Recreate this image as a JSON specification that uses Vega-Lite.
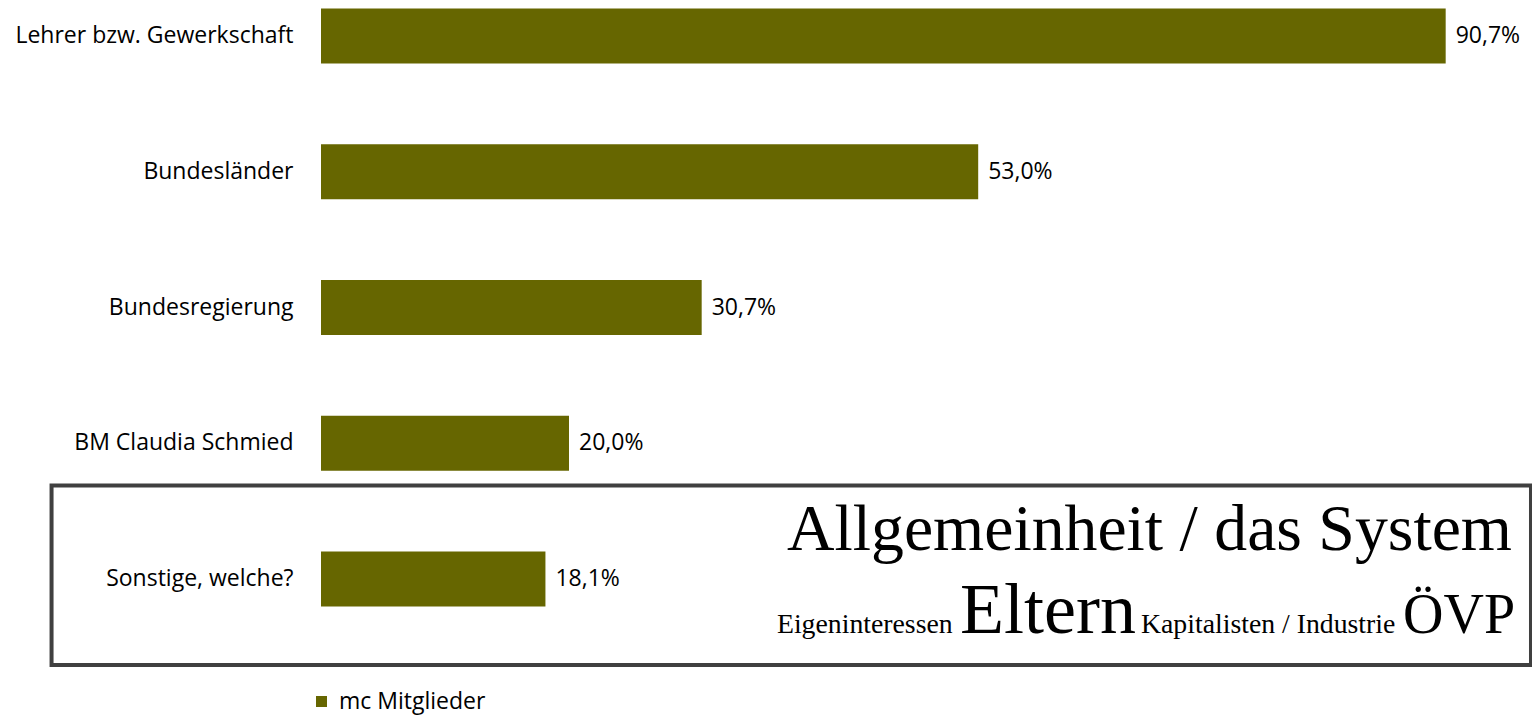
{
  "$schema": "https://vega.github.io/schema/vega-lite/v6.json",
  "width": 1211,
  "height": 615,
  "autosize": {"type": "none"},
  "padding": {"left": 321, "top": 0, "right": 0, "bottom": 102},
  "background": "white",
  "config": {
    "view": {"stroke": null},
    "font": "Open Sans",
    "locale": {"number": {"decimal": ",", "thousands": ".", "grouping": [3], "currency": ["", " €"]}}
  },
  "datasets": {
    "bars": [
      {"category": "Lehrer bzw. Gewerkschaft", "share": 0.907},
      {"category": "Bundesländer", "share": 0.530},
      {"category": "Bundesregierung", "share": 0.307},
      {"category": "BM Claudia Schmied", "share": 0.200},
      {"category": "Sonstige, welche?", "share": 0.181}
    ],
    "box": [{"x0": -0.2173, "x1": 0.9758, "r0": 3.311, "r1": 4.634}],
    "cloud": [
      {"word": "Allgemeinheit / das System", "col": 0.3758, "row": 3.786, "weight": 13.15},
      {"word": "Eigeninteressen", "col": 0.3677, "row": 4.398, "weight": 5.55},
      {"word": "Eltern", "col": 0.5153, "row": 4.398, "weight": 14.4},
      {"word": "Kapitalisten / Industrie", "col": 0.6613, "row": 4.398, "weight": 5.55},
      {"word": "ÖVP", "col": 0.8726, "row": 4.398, "weight": 11.2}
    ]
  },
  "layer": [
    {
      "data": {"name": "bars"},
      "layer": [
        {
          "mark": {"type": "bar", "color": "#666600"},
          "encoding": {
            "y": {
              "field": "category", "type": "nominal", "sort": null,
              "scale": {"paddingInner": 0.5948, "paddingOuter": 0.0626},
              "axis": {"title": null, "ticks": false, "domain": false, "labelPadding": 28, "labelFont": "Open Sans", "labelFontSize": 23, "labelColor": "#000000", "labelLimit": 400}
            },
            "x": {"field": "share", "type": "quantitative", "scale": {"domain": [0, 0.97661], "nice": false}, "axis": null},
            "color": {
              "datum": "mc Mitglieder", "type": "nominal",
              "scale": {"range": ["#666600"]},
              "legend": {"title": null, "orient": "none", "legendX": -11, "legendY": 690, "symbolType": "square", "symbolSize": 121, "symbolStrokeWidth": 0, "labelFont": "Open Sans", "labelFontSize": 23, "labelColor": "#000000", "labelOffset": 6, "padding": 0}
            }
          }
        },
        {
          "mark": {"type": "text", "align": "left", "baseline": "middle", "dx": 10, "font": "Open Sans", "fontSize": 23, "color": "#000000"},
          "encoding": {
            "y": {"field": "category", "type": "nominal", "sort": null},
            "x": {"field": "share", "type": "quantitative", "scale": {"domain": [0, 0.97661], "nice": false}},
            "text": {"field": "share", "type": "quantitative", "format": ".1%"}
          }
        }
      ]
    },
    {
      "data": {"name": "box"},
      "mark": {"type": "rect", "fill": null, "stroke": "#404040", "strokeWidth": 4},
      "encoding": {
        "x": {"field": "x0", "type": "quantitative", "scale": {"domain": [0, 0.97661], "nice": false}},
        "x2": {"field": "x1"},
        "y": {"field": "r0", "type": "quantitative", "scale": {"domain": [-0.2652, 4.2652], "reverse": true, "nice": false, "zero": false}, "axis": null},
        "y2": {"field": "r1"}
      }
    },
    {
      "data": {"name": "cloud"},
      "mark": {"type": "text", "align": "left", "baseline": "alphabetic", "font": "Liberation Serif", "color": "#000000"},
      "encoding": {
        "x": {"field": "col", "type": "quantitative", "scale": {"domain": [0, 0.97661], "nice": false}},
        "y": {"field": "row", "type": "quantitative", "scale": {"domain": [-0.2652, 4.2652], "reverse": true, "nice": false, "zero": false}, "axis": null},
        "text": {"field": "word"},
        "size": {"field": "weight", "type": "quantitative", "scale": {"domain": [0, 20], "range": [0, 100]}, "legend": null}
      }
    }
  ],
  "resolve": {"scale": {"y": "independent"}}
}
